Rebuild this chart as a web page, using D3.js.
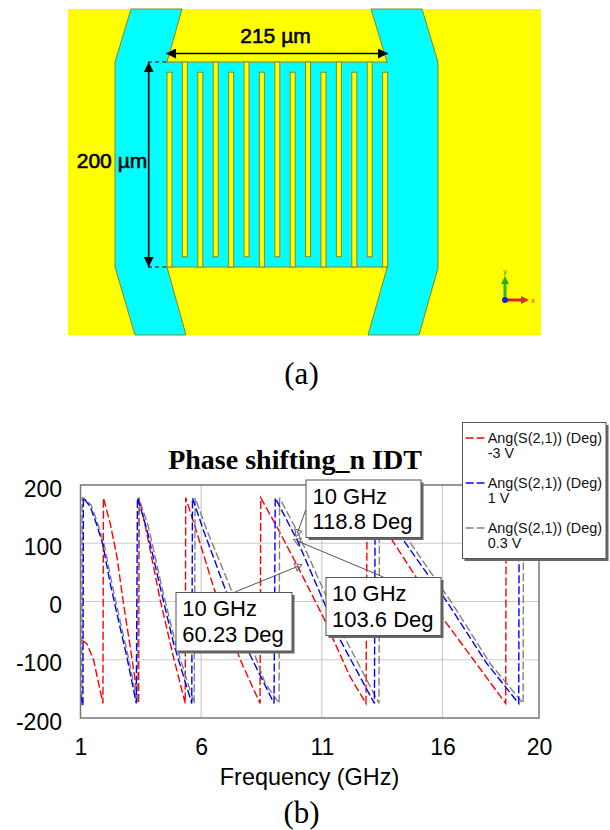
<!DOCTYPE html>
<html>
<head>
<meta charset="utf-8">
<script src="https://cdnjs.cloudflare.com/ajax/libs/d3/7.8.5/d3.min.js"></script>
<style>
html, body { margin: 0; padding: 0; background: #fff; }
svg { display: block; }
.sans { font-family: "Liberation Sans", Arial, sans-serif; }
.serif { font-family: "Liberation Serif", "Times New Roman", serif; }
</style>
</head>
<body>
<div id="vis"></div>
<script>
// (b) phase curves
const freqRed = [1.06, 1.27, 1.54, 1.93, 1.95, 2.23, 2.51, 2.78, 3.06, 3.41, 3.43, 3.75, 4.30, 4.85, 5.34, 5.36, 5.75, 6.51, 7.62, 8.44, 8.47, 9.14, 10, 11.05, 12.17, 12.83, 12.88, 13.9, 16.02, 18.62, 18.64, 20];
const phaseRed = [-66, -73, -100, -175, 178, 134, 77, -3, -78, -175, 178, 117, 3, -95, -175, 178, 128, 25, -100, -175, 178, 128, 60.23, -26, -129, -175, 178, 106, -29, -175, 178, 93];
const freqBlue = [1.0, 1.10, 1.12, 1.40, 1.68, 1.93, 2.23, 2.57, 2.92, 3.31, 3.36, 3.75, 4.30, 4.85, 5.61, 5.64, 6.08, 6.91, 8.03, 9.02, 9.07, 10, 11.76, 13.18, 13.21, 14.37, 16.18, 17.83, 19.16, 19.18, 20];
const phaseBlue = [-160, -178, 178, 163, 131, 97, 31, -32, -95, -175, 178, 124, 25, -71, -175, 178, 124, 31, -92, -175, 178, 103.6, -66, -175, 178, 106, 0, -106, -175, 178, 127];
const freqGray = [1.0, 1.05, 1.07, 1.12, 1.45, 1.72, 1.98, 2.30, 2.63, 2.98, 3.36, 3.41, 3.80, 4.37, 4.93, 5.71, 5.75, 6.24, 7.20, 8.65, 9.23, 9.25, 10, 12.0, 13.37, 13.39, 14.58, 16.35, 17.97, 19.34, 19.36, 20];
const phaseGray = [-170, -178, 178, 178, 165, 133, 98, 31, -31, -95, -175, 178, 131, 25, -71, -175, 178, 122, 25, -140, -175, 178, 118.8, -66, -175, 178, 106, 0, -106, -175, 178, 138];

const xTicks = [1, 6, 11, 16, 20];
const yTicks = [200, 100, 0, -100, -200];
const legendNames = ['-3 V', '1 V', '0.3 V'];
const seriesColors = ['#ff0000', '#0000ff', '#808080'];

const calloutFreq = [10, 10, 10];
const calloutPhase = [118.8, 103.6, 60.23];

// (a) IDT layout in micrometres
const bottomFingers = [0, 30.1, 60.2, 90.3, 120.4, 150.5, 180.6, 210.7];
const topFingers = [15.05, 45.15, 75.25, 105.35, 135.45, 165.55, 195.65];
const fingerWidth = 4.9;
const fingerGap = 10;

const W = 610, H = 830;
const svg = d3.select('#vis').append('svg').attr('width', W).attr('height', H);

// ---------- panel (a) ----------
const xUm = d3.scaleLinear().domain([0, 215]).range([167, 387]);
const yUm = d3.scaleLinear().domain([0, 200]).range([267, 62]);
const edge = '#85852a';

const a = svg.append('g');
a.append('rect').attr('x', 68).attr('y', 9).attr('width', 473).attr('height', 326).attr('fill', '#ffff00');

const leftBand = [[131, 9], [182, 9], [167, 62], [167, 267], [186, 335], [135, 335], [115, 267], [115, 62]];
const rightBand = [[371, 9], [422, 9], [438, 62], [438, 268], [419, 335], [368, 335], [387, 268], [387, 62]];
a.selectAll('.band').data([leftBand, rightBand]).enter().append('path')
    .attr('class', 'band')
    .attr('d', d => d3.line()(d) + 'Z')
    .attr('fill', '#00ffff')
    .attr('stroke', edge)
    .attr('stroke-width', 1);
a.append('rect')
    .attr('x', xUm(0)).attr('y', yUm(200))
    .attr('width', xUm(215) - xUm(0)).attr('height', yUm(0) - yUm(200))
    .attr('fill', '#00ffff').attr('stroke', edge);
// patch the seams where the bands meet the finger block
a.append('rect').attr('x', 160).attr('y', 63).attr('width', 8).attr('height', 203).attr('fill', '#00ffff');
a.append('rect').attr('x', 386).attr('y', 63).attr('width', 8).attr('height', 204).attr('fill', '#00ffff');

a.selectAll('.fb').data(bottomFingers).enter().append('rect')
    .attr('class', 'fb')
    .attr('x', d => xUm(d)).attr('width', xUm(fingerWidth) - xUm(0))
    .attr('y', yUm(200 - fingerGap)).attr('height', yUm(0) - yUm(200 - fingerGap))
    .attr('fill', '#ffff00').attr('stroke', edge);
a.selectAll('.ft').data(topFingers).enter().append('rect')
    .attr('class', 'ft')
    .attr('x', d => xUm(d)).attr('width', xUm(fingerWidth) - xUm(0))
    .attr('y', yUm(200)).attr('height', yUm(fingerGap) - yUm(200))
    .attr('fill', '#ffff00').attr('stroke', edge);

// dimension lines
const defs = svg.append('defs');
defs.append('marker').attr('id', 'dim').attr('viewBox', '0 0 10 10')
    .attr('refX', 10).attr('refY', 5)
    .attr('markerWidth', 11).attr('markerHeight', 10).attr('markerUnits', 'userSpaceOnUse')
    .attr('orient', 'auto-start-reverse')
    .append('path').attr('d', 'M0,0L10,5L0,10Z').attr('fill', '#000');

a.append('line').attr('x1', 166).attr('x2', 388).attr('y1', 53.5).attr('y2', 53.5)
    .attr('stroke', '#000').attr('stroke-width', 1.6)
    .attr('marker-start', 'url(#dim)').attr('marker-end', 'url(#dim)');
a.append('line').attr('x1', 148.7).attr('x2', 148.7).attr('y1', 62).attr('y2', 267)
    .attr('stroke', '#000').attr('stroke-width', 1.6)
    .attr('marker-start', 'url(#dim)').attr('marker-end', 'url(#dim)');
[62, 267].forEach(y => {
    a.append('line').attr('x1', 148).attr('x2', 167).attr('y1', y).attr('y2', y)
        .attr('stroke', '#000').attr('stroke-width', 1.2).attr('stroke-dasharray', '4,3');
});
a.append('text').attr('class', 'sans').attr('x', 275.5).attr('y', 43)
    .attr('text-anchor', 'middle').attr('font-size', 21).attr('stroke', '#000').attr('stroke-width', 0.6)
    .text('215 µm');
a.append('text').attr('class', 'sans').attr('x', 112).attr('y', 168)
    .attr('text-anchor', 'middle').attr('font-size', 21).attr('stroke', '#000').attr('stroke-width', 0.6)
    .text('200 µm');

// axis triad
a.append('line').attr('x1', 505).attr('x2', 505).attr('y1', 300).attr('y2', 280)
    .attr('stroke', '#22bb22').attr('stroke-width', 3);
a.append('path').attr('d', 'M505,276L501,284L509,284Z').attr('fill', '#22aa22');
a.append('line').attr('x1', 505).attr('x2', 524).attr('y1', 300).attr('y2', 300)
    .attr('stroke', '#dd2222').attr('stroke-width', 3);
a.append('path').attr('d', 'M529,300L521,296L521,304Z').attr('fill', '#cc3333');
a.append('circle').attr('cx', 505).attr('cy', 300).attr('r', 3).attr('fill', '#2222cc');
a.append('text').attr('class', 'sans').attr('x', 505).attr('y', 274).attr('text-anchor', 'middle')
    .attr('font-size', 7).attr('fill', '#229922').text('y');
a.append('text').attr('class', 'sans').attr('x', 533).attr('y', 302.5).attr('text-anchor', 'middle')
    .attr('font-size', 7).attr('fill', '#dd2222').text('x');

svg.append('text').attr('class', 'serif').attr('x', 301.5).attr('y', 384)
    .attr('text-anchor', 'middle').attr('font-size', 31).text('(a)');

// ---------- panel (b) ----------
const margin = {top: 485, left: 80.5, right: 71, bottom: 112};
const width = W - margin.left - margin.right;
const height = H - margin.top - margin.bottom;
const x = d3.scaleLinear().domain([1, 20]).range([0, width]);
const y = d3.scaleLinear().domain([-200, 200]).range([height, 0]);

svg.append('text').attr('class', 'serif').attr('x', 295).attr('y', 469)
    .attr('text-anchor', 'middle').attr('font-size', 28).attr('font-weight', 'bold')
    .text('Phase shifting_n IDT');

const plot = svg.append('g').attr('transform', 'translate(' + margin.left + ',' + margin.top + ')');

plot.selectAll('.gx').data(xTicks.slice(1, -1)).enter().append('line')
    .attr('x1', d => x(d)).attr('x2', d => x(d)).attr('y1', 0).attr('y2', height)
    .attr('stroke', '#cccccc').attr('stroke-width', 1.2);
plot.selectAll('.gy').data(yTicks.slice(1, -1)).enter().append('line')
    .attr('x1', 0).attr('x2', width).attr('y1', d => y(d)).attr('y2', d => y(d))
    .attr('stroke', '#cccccc').attr('stroke-width', 1.2);

const line = d3.line().x(d => x(d[0])).y(d => y(d[1]));
const curves = [
    {xs: freqRed, ys: phaseRed, color: seriesColors[0]},
    {xs: freqGray, ys: phaseGray, color: seriesColors[2]},
    {xs: freqBlue, ys: phaseBlue, color: seriesColors[1]}
];
curves.forEach(c => {
    plot.append('path')
        .attr('d', line(d3.zip(c.xs, c.ys)))
        .attr('fill', 'none')
        .attr('stroke', c.color)
        .attr('stroke-width', 1.4)
        .attr('stroke-dasharray', '8,3');
});

plot.append('rect').attr('width', width).attr('height', height)
    .attr('fill', 'none').attr('stroke', '#777777').attr('stroke-width', 1.5);

const xAxis = plot.append('g').attr('transform', 'translate(0,' + height + ')')
    .call(d3.axisBottom(x).tickValues(xTicks).tickSize(0).tickPadding(20.7).tickFormat(d3.format('d')));
const yAxis = plot.append('g')
    .call(d3.axisLeft(y).tickValues(yTicks).tickSize(0).tickPadding(18.5).tickFormat(d => String(d)));
[xAxis, yAxis].forEach(g => {
    g.select('.domain').remove();
    g.selectAll('text').attr('class', 'sans').attr('font-size', 23).attr('fill', '#000');
});
yAxis.selectAll('text').attr('dy', '0.48em');

svg.append('text').attr('class', 'sans').attr('x', 309.5).attr('y', 785)
    .attr('text-anchor', 'middle').attr('font-size', 23.4).text('Frequency (GHz)');

svg.append('text').attr('class', 'serif').attr('x', 301.5).attr('y', 823)
    .attr('text-anchor', 'middle').attr('font-size', 31).text('(b)');

// callouts
const calloutBoxes = [
    {x0: 306, x1: 421, y0: 480, y1: 537.5, tx: 312.5, ax: 305.7, ay: 510},
    {x0: 326, x1: 441, y0: 577.5, y1: 635.5, tx: 332, ax: 383.3, ay: 577},
    {x0: 176, x1: 292, y0: 592.5, y1: 651, tx: 182.3, ax: 235, ay: 592}
];
const notes = svg.append('g');
calloutBoxes.forEach((b, i) => {
    const px = margin.left + x(calloutFreq[i]);
    const py = margin.top + y(calloutPhase[i]);
    const angle = Math.atan2(py - b.ay, px - b.ax) * 180 / Math.PI + 90;
    notes.append('line').attr('x1', b.ax).attr('y1', b.ay).attr('x2', px).attr('y2', py)
        .attr('stroke', '#555').attr('stroke-width', 1);
    notes.append('path')
        .attr('d', d3.symbol().type(d3.symbolTriangle).size(26)())
        .attr('transform', 'translate(' + px + ',' + py + ') rotate(' + angle + ')')
        .attr('fill', 'none').attr('stroke', '#555').attr('stroke-width', 0.9);
    notes.append('rect').attr('x', b.x0 + 2.5).attr('y', b.y0 + 2.5)
        .attr('width', b.x1 - b.x0).attr('height', b.y1 - b.y0).attr('fill', '#666');
    notes.append('rect').attr('x', b.x0).attr('y', b.y0)
        .attr('width', b.x1 - b.x0).attr('height', b.y1 - b.y0)
        .attr('fill', '#fff').attr('stroke', '#555').attr('stroke-width', 1);
    const t = notes.append('text').attr('class', 'sans').attr('font-size', 22).attr('fill', '#000');
    t.append('tspan').attr('x', b.tx).attr('y', b.y0 + 23.5).text(calloutFreq[i] + ' GHz');
    t.append('tspan').attr('x', b.tx).attr('y', b.y0 + 49).text(calloutPhase[i] + ' Deg');
});

// legend
const lg = svg.append('g');
lg.append('rect').attr('x', 464.5).attr('y', 425).attr('width', 144).attr('height', 136).attr('fill', '#666');
lg.append('rect').attr('x', 462.5).attr('y', 422.5).attr('width', 143.5).attr('height', 136)
    .attr('fill', '#fff').attr('stroke', '#555').attr('stroke-width', 1);
const legendY = d3.scalePoint().domain(legendNames).range([438, 528]);
legendNames.forEach((name, i) => {
    const ly = legendY(name);
    lg.append('line').attr('x1', 465.7).attr('x2', 484.5).attr('y1', ly).attr('y2', ly)
        .attr('stroke', seriesColors[i]).attr('stroke-width', 1.3).attr('stroke-dasharray', '8,3');
    const t = lg.append('text').attr('class', 'sans').attr('font-size', 14.4).attr('fill', '#111');
    t.append('tspan').attr('x', 487.7).attr('y', ly + 5).text('Ang(S(2,1)) (Deg)');
    t.append('tspan').attr('x', 487.7).attr('y', ly + 20).text(name);
});
</script>
</body>
</html>
